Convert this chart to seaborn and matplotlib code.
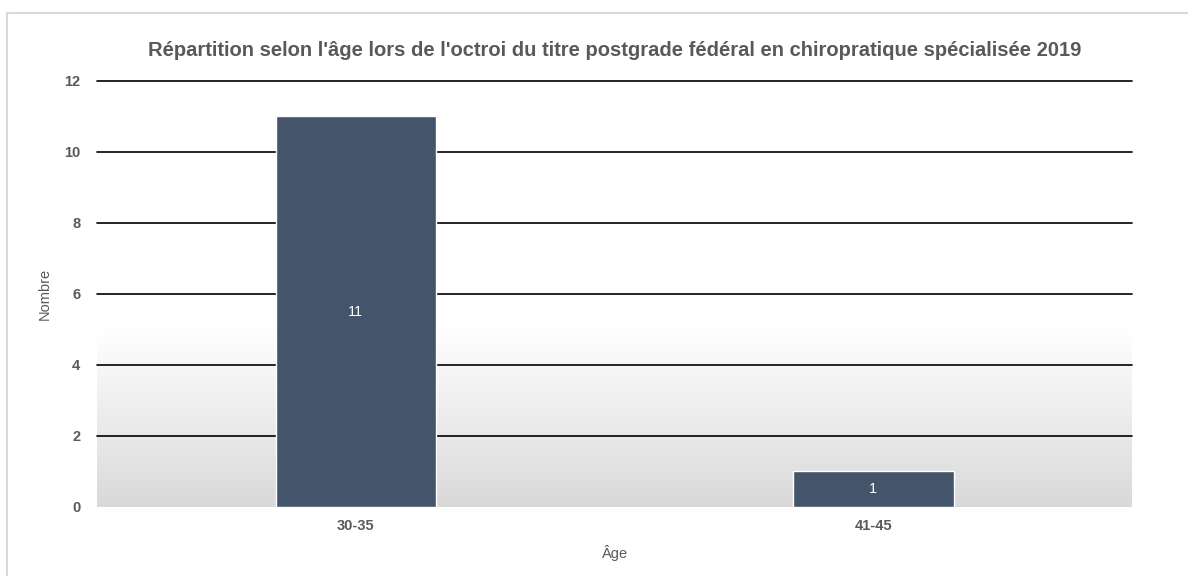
import matplotlib
matplotlib.use("Agg")
import matplotlib.pyplot as plt
import matplotlib.patches as mpatches
import seaborn as sns
import numpy as np
import pandas as pd

# data
age_groups = ["30-35", "41-45"]
counts = [11, 1]
y_ticks = [0, 2, 4, 6, 8, 10, 12]

title = "Répartition selon l'âge lors de l'octroi du titre postgrade fédéral en chiropratique spécialisée 2019"
bar_color = "#44546A"
text_grey = "#595959"

sns.set_style("white")
plt.rcParams["font.family"] = ["Liberation Sans", "DejaVu Sans"]

df = pd.DataFrame({"age": age_groups, "n": counts})

fig = plt.figure(figsize=(11.88, 5.76), dpi=100)
ax = fig.add_axes([0.0817, 0.1198, 0.8712, 0.7396])

# outer frame
fig.patches.append(mpatches.Rectangle((7 / 1188, -0.1), 1.2, 1 - 13 / 576 + 0.1,
                                      transform=fig.transFigure, fill=False,
                                      edgecolor="#d9d9d9", linewidth=1.5))

# background gradient (white -> light grey towards the bottom)
grad_top = 5.0
grad = np.linspace(0, 1, 256).reshape(-1, 1)
cmap = matplotlib.colors.LinearSegmentedColormap.from_list("bg", ["#d9d9d9", "#ffffff"])
ax.imshow(grad, cmap=cmap, aspect="auto", origin="lower",
          extent=(-0.5, 1.5, 0, grad_top), zorder=0)

sns.barplot(data=df, x="age", y="n", color=bar_color, width=0.31,
            edgecolor="white", linewidth=1, saturation=1, ax=ax, zorder=3)

for c in ax.containers:
    ax.bar_label(c, label_type="center", color="white", fontsize=10.5)

ax.set_xlim(-0.5, 1.5)
ax.set_ylim(0, 12)
ax.set_yticks(y_ticks)
ax.yaxis.grid(True, color="black", linewidth=1.2, zorder=1)
ax.set_axisbelow(True)
for gl in ax.yaxis.get_gridlines():
    gl.set_clip_on(False)
ax.yaxis.get_gridlines()[0].set_visible(False)

for s in ax.spines.values():
    s.set_visible(False)

ax.tick_params(axis="both", length=0, labelsize=10.5, labelcolor=text_grey)
ax.tick_params(axis="y", pad=12)
ax.tick_params(axis="x", pad=9)
for lbl in ax.get_xticklabels() + ax.get_yticklabels():
    lbl.set_fontweight("bold")

ax.set_xlabel("Âge", color=text_grey, fontsize=10.5, labelpad=8)
ax.set_ylabel("Nombre", color=text_grey, fontsize=10.5, labelpad=9)

fig.text(0.5 * (97 + 1132) / 1188, 1 - 51 / 576, title, ha="center", va="center",
         fontsize=14.5, fontweight="bold", color=text_grey)

fig.savefig("out.png", dpi=100)
